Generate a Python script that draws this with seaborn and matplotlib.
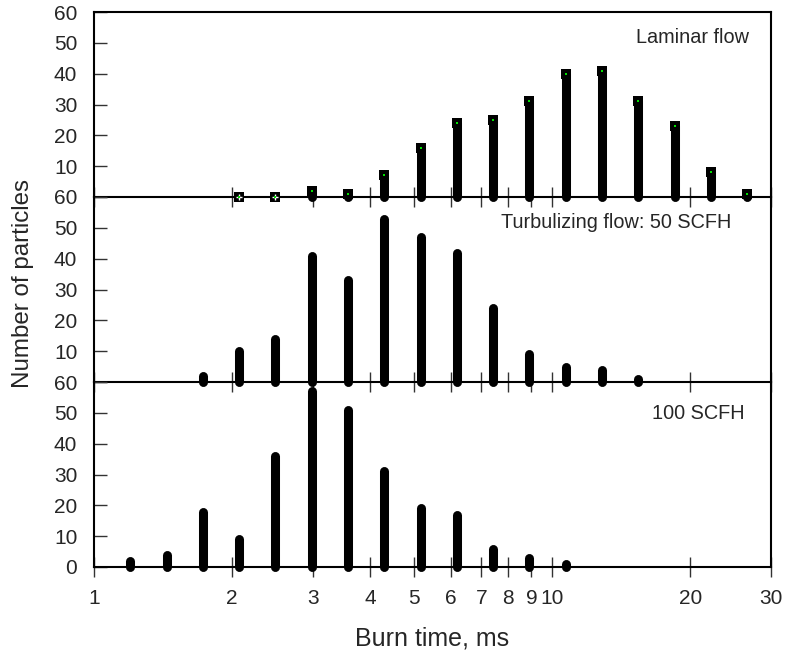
import numpy as np
import pandas as pd
import matplotlib
matplotlib.use("Agg")
import matplotlib.pyplot as plt
from matplotlib.ticker import FixedLocator, FixedFormatter, NullFormatter
import seaborn as sns

sns.set_theme(style="white")
plt.rcParams["font.family"] = ["Liberation Sans", "DejaVu Sans"]

# Burn-time bins (ms): geometric bins with a ratio of 1.2
bin_index = np.arange(1, 19)
bin_centers = 1.2 ** bin_index

# Particle counts per bin for each flow condition (first bin index, counts)
laminar_start = 4
laminar_counts = [0, 0, 2, 1, 7, 16, 24, 25, 31, 40, 41, 31, 23, 8, 1]

turb50_start = 3
turb50_counts = [2, 10, 14, 41, 33, 53, 47, 42, 24, 9, 5, 4, 1]

turb100_start = 1
turb100_counts = [2, 4, 18, 9, 36, 57, 51, 31, 19, 17, 6, 3, 1]

panel_titles = ["Laminar flow", "Turbulizing flow: 50 SCFH", "100 SCFH"]
x_tick_values = [1, 2, 3, 4, 5, 6, 7, 8, 9, 10, 20, 30]
x_tick_labels = ["1", "2", "3", "4", "5", "6", "7", "8", "9", "10", "20", "30"]
y_tick_values = [0, 10, 20, 30, 40, 50, 60]


def series_frame(start, counts):
    times = bin_centers[start - 1:start - 1 + len(counts)]
    return pd.DataFrame({"time": times, "count": counts})


def stems_frame(df):
    base = df.assign(count=0)
    out = pd.concat([base, df]).reset_index(drop=True)
    out["bin"] = np.concatenate([np.arange(len(df)), np.arange(len(df))])
    return out


W, H = 789, 655
fig = plt.figure(figsize=(W / 100, H / 100), dpi=100)
left, right = 94, 771
tops = [12, 197, 382]
panel_h = 185

frames = [series_frame(laminar_start, laminar_counts),
          series_frame(turb50_start, turb50_counts),
          series_frame(turb100_start, turb100_counts)]
text_pos = [(0.9675, 0.86), (0.941, 0.862), (0.9616, 0.83)]

axes = []
for i, df in enumerate(frames):
    ax = fig.add_axes([left / W, 1 - (tops[i] + panel_h) / H,
                       (right - left) / W, panel_h / H])
    axes.append(ax)
    ax.set_xscale("log")
    ax.set_xlim(1, 30)
    ax.set_ylim(0, 60)

    sns.lineplot(data=stems_frame(df), x="time", y="count", units="bin",
                 estimator=None, sort=False, color="black", lw=6.5,
                 solid_capstyle="round", clip_on=False, ax=ax, zorder=3)

    if i == 0:
        # square caps on the laminar-flow stems
        sns.scatterplot(data=df, x="time", y="count", marker="s", s=58,
                        color="black", linewidth=0, clip_on=False, ax=ax,
                        zorder=4)
        zero = df[df["count"] == 0]
        sns.scatterplot(data=zero, x="time", y="count", marker="+", s=22,
                        color="white", linewidth=1.0, clip_on=False, ax=ax,
                        zorder=5)
        sns.scatterplot(data=df, x="time", y="count", marker="s", s=1.2,
                        color="#00e000", linewidth=0, clip_on=False, ax=ax,
                        zorder=6)

    ax.text(text_pos[i][0], text_pos[i][1], panel_titles[i],
            transform=ax.transAxes, ha="right", va="center", fontsize=14.3)

    # axes frame
    for s in ax.spines.values():
        s.set_visible(True)
        s.set_color("black")
        s.set_linewidth(1.5)
    if i > 0:
        ax.spines["top"].set_visible(False)

    # x ticks: short ticks with labels, long ticks at decades
    ax.xaxis.set_major_locator(FixedLocator(x_tick_values))
    ax.xaxis.set_minor_locator(FixedLocator([1, 10]))
    ax.xaxis.set_minor_formatter(NullFormatter())
    if i == 2:
        ax.xaxis.set_major_formatter(FixedFormatter(x_tick_labels))
    else:
        ax.xaxis.set_major_formatter(NullFormatter())
    ax.tick_params(axis="x", which="major", direction="inout", length=15,
                   width=1.0, color="#333333", labelsize=15, pad=8,
                   bottom=True, top=False)
    ax.tick_params(axis="x", which="minor", direction="inout", length=34,
                   width=1.0, color="#333333", bottom=True, top=False)

    # y ticks
    ax.yaxis.set_major_locator(FixedLocator(y_tick_values))
    if i < 2:
        ylabels = ["", "10", "20", "30", "40", "50", "60"]
    else:
        ylabels = ["0", "10", "20", "30", "40", "50", "60"]
    ax.yaxis.set_major_formatter(FixedFormatter(ylabels))
    ax.tick_params(axis="y", which="major", direction="in", length=9,
                   width=1.0, color="#333333", labelsize=15, pad=12,
                   left=True, right=False)
    ax.set_xlabel("")
    ax.set_ylabel("")
    ax.grid(False)
    ax.set_facecolor("white")
    ax.patch.set_alpha(0)

axes[2].set_xlabel("Burn time, ms", fontsize=18, labelpad=14)
fig.text(23 / W, 1 - 283 / H, "Number of particles", rotation=90,
         ha="center", va="center", fontsize=17.4)

fig.savefig("out.png", dpi=100, facecolor="white")
